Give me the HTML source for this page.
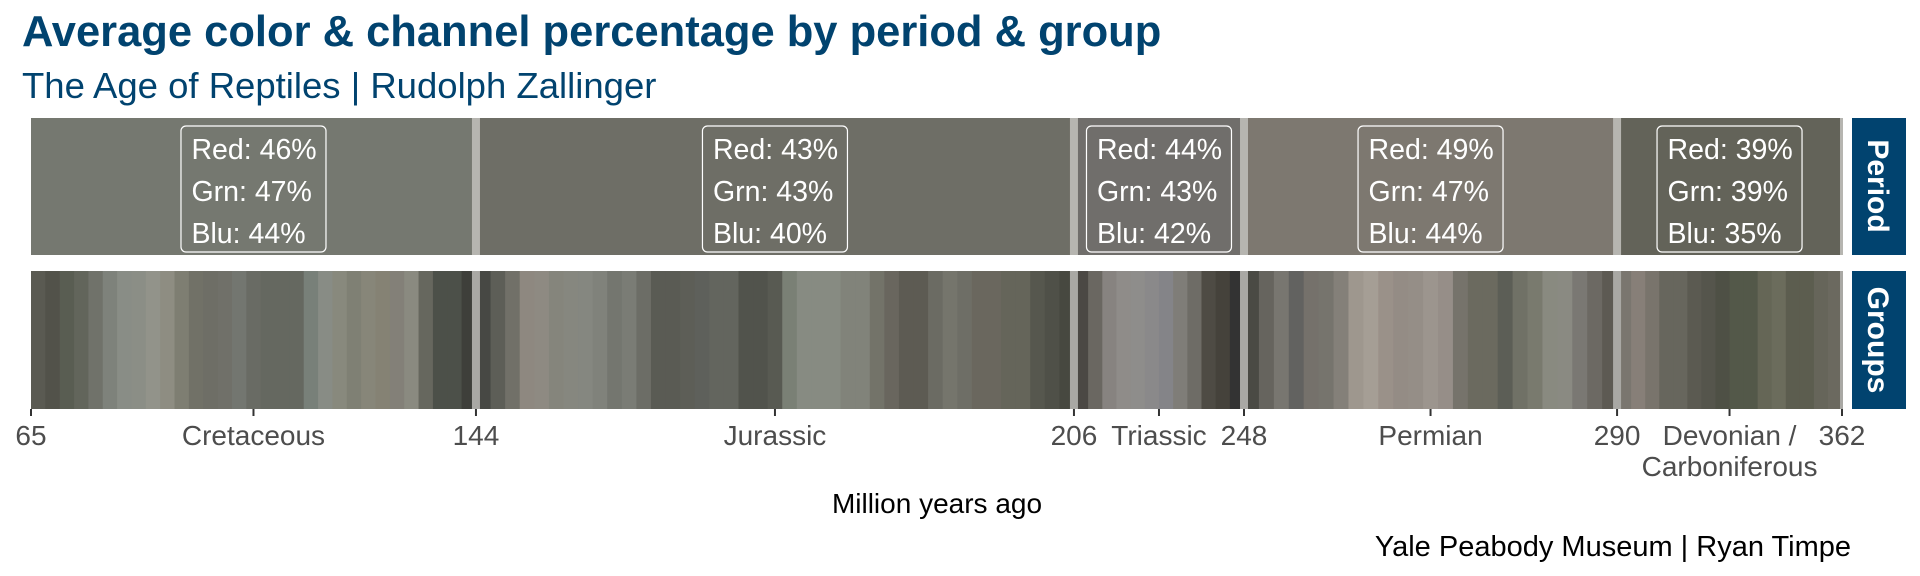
<!DOCTYPE html>
<html><head><meta charset="utf-8">
<style>
html,body{margin:0;padding:0;background:#fff;}
svg{display:block;font-family:"Liberation Sans",Arial,sans-serif;}
</style></head>
<body>
<svg id="chart" width="1920" height="576" viewBox="0 0 1920 576" xmlns="http://www.w3.org/2000/svg">
  <text x="22" y="46" font-size="43.5" font-weight="bold" fill="#01436f">Average color &amp; channel percentage by period &amp; group</text>
  <text x="22" y="98" font-size="36.5" fill="#01436f">The Age of Reptiles | Rudolph Zallinger</text>
  <g id="periodPanel"></g>
  <g id="groupPanel"></g>
  <g id="axis"></g>
  <rect x="1852" y="118" width="54" height="137" fill="#01436f"/>
  <text transform="translate(1868,186) rotate(90)" text-anchor="middle" font-size="30" font-weight="bold" fill="#fff">Period</text>
  <rect x="1852" y="271" width="54" height="138" fill="#01436f"/>
  <text transform="translate(1868,340) rotate(90)" text-anchor="middle" font-size="30" font-weight="bold" fill="#fff">Groups</text>
  <text x="937" y="513" text-anchor="middle" font-size="28" fill="#000">Million years ago</text>
  <text x="1851" y="556" text-anchor="end" font-size="29" fill="#000">Yale Peabody Museum | Ryan Timpe</text>
</svg>
<script>
const periodNames = ["Cretaceous","Jurassic","Triassic","Permian","Devonian / Carboniferous"];
const boundaryMyr = [65,144,206,248,290,362];
const boundaryMuralPct = [0,24.57,57.59,66.98,87.58,100];
const redPct = [46,43,44,49,39];
const grnPct = [47,43,43,47,39];
const bluPct = [44,40,42,44,35];
const groupsCretaceous = ["#5a5a52","#52524a","#595d52","#62655b","#70726a","#7e827b","#898d86","#8b8e86","#92938a","#8e8d82","#7e7e72","#717167","#6e6e66","#707069","#737670","#696b64","#656860","#656860","#656860","#788079","#888c85","#88897d","#7f8074","#878679","#858274","#838078","#8a8a80","#66675e","#4c5049","#4c5049","#3e3f3a"];
const groupsJurassic = ["#474844","#5d5e57","#717068","#8e8880","#8e8a82","#85857c","#86877f","#858780","#80827b","#74766f","#7a7c75","#6c6d66","#5a5b54","#5a5b54","#5d5e57","#5e605b","#63655e","#63655e","#51534c","#51534c","#585a52","#7a8075","#878b82","#878b82","#878b82","#81837a","#81837a","#737369","#69665e","#5d5b53","#5d5b53","#6b6b63","#75756c","#6e6e66","#6a675e","#6a675e","#65655a","#65655a","#56574e","#4f5048","#474840"];
const groupsTriassic = ["#4b4844","#6a6761","#878380","#8f8c89","#8e8d8b","#8a898a","#848488","#7f7d78","#6e6c66","#4e4b44","#45423b","#333333"];
const groupsPermian = ["#4a4a44","#66645e","#787670","#626260","#75716b","#76746d","#848079","#9e978e","#a59e95","#9a9189","#948c85","#958e87","#9c958e","#968e88","#76736b","#6b6a5f","#6b6a5f","#5c5e56","#707166","#797a6e","#898a80","#8a8a82","#7a7873","#6c6963","#5d5a53"];
const groupsDevonian = ["#7a766f","#877f78","#79746c","#67665d","#67665d","#5b5a51","#55554c","#4e5045","#535849","#535849","#656656","#6b6c5c","#5c5d4f","#5c5d4f","#66655a","#6b695f"];
const groupColors = [groupsCretaceous,groupsJurassic,groupsTriassic,groupsPermian,groupsDevonian];

const NS="http://www.w3.org/2000/svg";
const X0=31, X1=1842;
const xScale = p => X0 + (X1-X0)*p/100;
const TOP_Y=118, TOP_H=137, GRP_Y=271, GRP_H=138;
function mk(tag, attrs, parent){const e=document.createElementNS(NS,tag);for(const k in attrs)e.setAttribute(k,attrs[k]);parent.appendChild(e);return e;}
const pp=document.getElementById('periodPanel'), gp=document.getElementById('groupPanel'), ax=document.getElementById('axis');
const toHex = v => Math.round(v*2.55).toString(16).padStart(2,'0');

for(let i=0;i<periodNames.length;i++){
  const xa=xScale(boundaryMuralPct[i]), xb=xScale(boundaryMuralPct[i+1]);
  const r=mk('rect',{x:xa,y:TOP_Y,width:xb-xa,height:TOP_H,fill:'#'+toHex(redPct[i])+toHex(grnPct[i])+toHex(bluPct[i])},pp);
  
  
  const cols=groupColors[i], w=(xb-xa)/cols.length;
  cols.forEach((c,j)=>{
    const s=mk('rect',{x:xa+j*w,y:GRP_Y,width:w+0.6,height:GRP_H,fill:c},gp);
    
    
  });
  const cx=(xa+xb)/2;
  const g=mk('g',{},pp);
  
  
  mk('rect',{x:cx-72.5,y:126,width:145,height:126,rx:5,fill:'none',stroke:'#fff','stroke-width':1.2},g);
  const lines=['Red: '+redPct[i]+'%','Grn: '+grnPct[i]+'%','Blu: '+bluPct[i]+'%'];
  lines.forEach((t,k)=>{const tx=mk('text',{x:cx-62,y:159+k*42,'font-size':28.5,fill:'#fff'},g);tx.textContent=t;});
  const tk=mk('line',{x1:cx,x2:cx,y1:409,y2:416,stroke:'#333','stroke-width':2},ax);
  
  
  const parts=periodNames[i].split(' / ');
  parts.forEach((p,k)=>{
    const lt=mk('text',{x:cx,y:445+k*31,'font-size':28,fill:'#4d4d4d','text-anchor':'middle'},ax);
    lt.textContent = (k<parts.length-1)? p+' /' : p;
    
    
  });
}
for(let i=0;i<boundaryMyr.length;i++){
  const x=xScale(boundaryMuralPct[i]);
  if(i>0){
    const w = i===boundaryMyr.length-1 ? 3 : 8;
    const off = i===boundaryMyr.length-1 ? -2 : -4;
    const b1=mk('rect',{x:x+off,y:TOP_Y,width:w,height:TOP_H,fill:'#b6b5b0'},pp);
    
    
    const b2=mk('rect',{x:x+off,y:GRP_Y,width:w,height:GRP_H,fill:'#a9a8a4'},gp);
    
    
  }
  const tk=mk('line',{x1:x,x2:x,y1:409,y2:416,stroke:'#333','stroke-width':2},ax);
  
  
  const t=mk('text',{x:x,y:445,'font-size':28,fill:'#4d4d4d','text-anchor':'middle'},ax);
  t.textContent=boundaryMyr[i];
  
  
}
</script>
</body></html>
